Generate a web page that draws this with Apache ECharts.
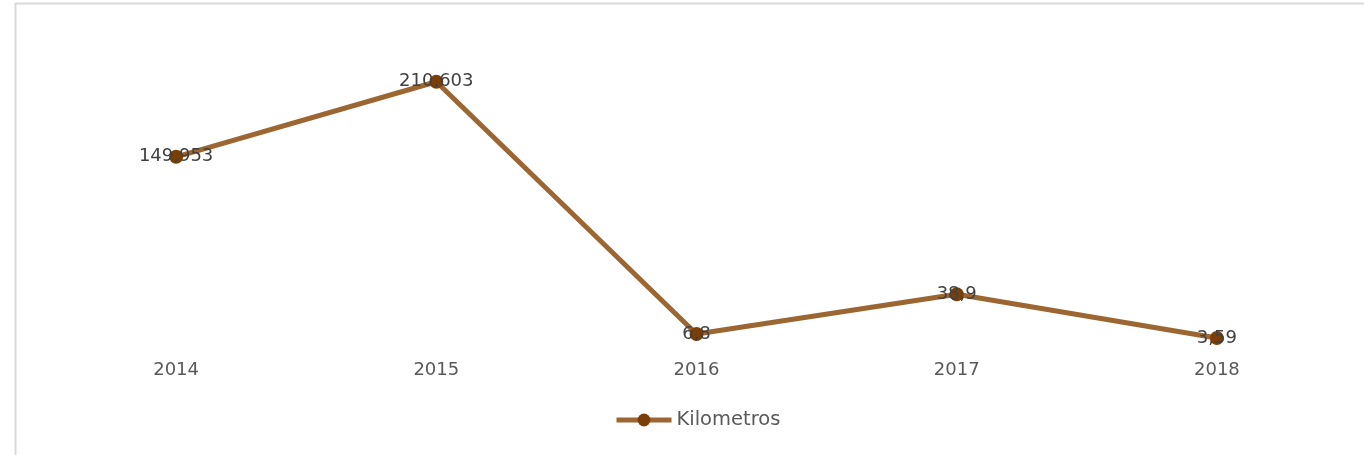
<!DOCTYPE html>
<html>
<head>
<meta charset="utf-8">
<script src="https://cdn.jsdelivr.net/npm/echarts@6/dist/echarts.min.js"></script>
<style>
html,body{margin:0;padding:0;background:#fff;}
#main{width:1364px;height:455px;}
</style>
</head>
<body>
<div id="main"></div>
<script>
const categories = ['2014', '2015', '2016', '2017', '2018'];
const seriesName = 'Kilometros';
const kilometros = [149.953, 210.603, 6.8, 38.9, 3.59];

const chart = echarts.init(document.getElementById('main'));
const font = '"DejaVu Sans", sans-serif';
chart.setOption({
  animation: false,
  backgroundColor: '#ffffff',
  graphic: [
    { type: 'line', shape: { x1: 15, y1: 3.5, x2: 1364, y2: 3.5 }, style: { stroke: '#d9d9d9', lineWidth: 2 } },
    { type: 'line', shape: { x1: 15.5, y1: 3, x2: 15.5, y2: 455 }, style: { stroke: '#d9d9d9', lineWidth: 2 } }
  ],
  grid: { left: 46, top: 33, width: 1301, height: 309.4, containLabel: false },
  xAxis: {
    type: 'category',
    data: categories,
    boundaryGap: true,
    axisLine: { show: false },
    axisTick: { show: false },
    axisLabel: { color: '#595959', fontSize: 18, fontFamily: font, margin: 19 }
  },
  yAxis: {
    type: 'value',
    min: 0,
    max: 250,
    show: false,
    splitLine: { show: false }
  },
  legend: {
    data: [seriesName],
    bottom: 20,
    left: 609,
    itemWidth: 55,
    itemHeight: 16,
    itemGap: 5,
    lineStyle: { width: 5 },
    textStyle: { color: '#595959', fontSize: 19.5, fontFamily: font }
  },
  series: [{
    name: seriesName,
    type: 'line',
    data: kilometros,
    symbol: 'circle',
    symbolSize: 14,
    lineStyle: { color: '#9c6632', width: 5 },
    itemStyle: { color: '#7a3f08' },
    label: {
      show: true,
      position: 'inside',
      color: '#404040',
      fontSize: 18,
      fontFamily: font,
      formatter: p => String(p.value).replace('.', ',')
    }
  }]
});
</script>
</body>
</html>
